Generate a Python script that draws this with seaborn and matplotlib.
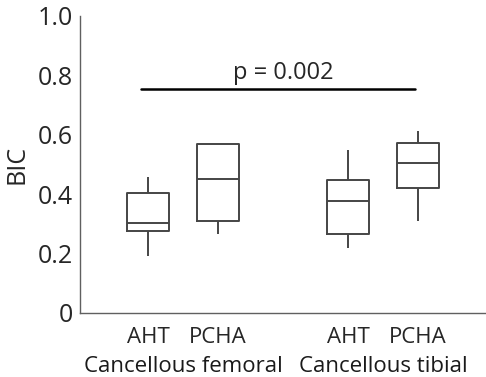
import numpy as np
import pandas as pd
import matplotlib
import matplotlib.pyplot as plt
import seaborn as sns

matplotlib.use("Agg")

# values: [lower whisker, q1, median, q3, upper whisker]
groups = ["Cancellous femoral", "Cancellous femoral", "Cancellous tibial", "Cancellous tibial"]
methods = ["AHT", "PCHA", "AHT", "PCHA"]
positions = [1.0, 2.0, 3.86, 4.86]
aht_femoral = [0.192, 0.277, 0.302, 0.404, 0.459]
pcha_femoral = [0.265, 0.311, 0.451, 0.567, 0.570]
aht_tibial = [0.218, 0.266, 0.377, 0.448, 0.547]
pcha_tibial = [0.311, 0.421, 0.503, 0.573, 0.612]
p_label = "p = 0.002"
p_line_y = 0.754

rows = []
for pos, vals in zip(positions, [aht_femoral, pcha_femoral, aht_tibial, pcha_tibial]):
    for v in vals:
        rows.append({"pos": pos, "BIC": v})
df = pd.DataFrame(rows)

sns.set_style("white")
plt.rcParams["font.family"] = ["Open Sans", "DejaVu Sans"]

fig = plt.figure(figsize=(4.86, 3.77), dpi=100)
ax = fig.add_axes([0.164, 0.170, 0.836, 0.788])

line_col = "#454545"
sns.boxplot(data=df, x="pos", y="BIC", native_scale=True, width=0.6, whis=(0, 100),
            fill=False, color=line_col, linewidth=1.4, showcaps=False, ax=ax)

ax.set_xlim(0.02, 5.83)
ax.set_ylim(0, 1.0)
ax.set_yticks([0, 0.2, 0.4, 0.6, 0.8, 1.0])
ax.set_yticklabels(["0", "0.2", "0.4", "0.6", "0.8", "1.0"])
ax.set_xticks(positions)
ax.set_xticklabels(methods)
ax.set_xlabel("")
ax.set_ylabel("BIC", fontsize=18, labelpad=6)
ax.tick_params(axis="both", direction="in", length=3, color="#606060", labelsize=18, pad=5)
ax.tick_params(axis="x", labelsize=16, pad=10)

for side in ["top", "right"]:
    ax.spines[side].set_visible(False)
for side in ["left", "bottom"]:
    ax.spines[side].set_color("#606060")
    ax.spines[side].set_linewidth(1.0)

# group labels under the method labels
for g in ["Cancellous femoral", "Cancellous tibial"]:
    xs = [p for p, gg in zip(positions, groups) if gg == g]
    ax.text(np.mean(xs), -0.18, g, ha="center", va="center", fontsize=16,
            transform=ax.get_xaxis_transform(), color="#1a1a1a")

# significance bar
ax.plot([positions[0] - 0.1, positions[3] - 0.05], [p_line_y, p_line_y], color="black", lw=1.8)
ax.text(np.mean([positions[0], positions[3]]), p_line_y + 0.012, p_label,
        ha="center", va="bottom", fontsize=17)

fig.savefig("out.png", dpi=100)
